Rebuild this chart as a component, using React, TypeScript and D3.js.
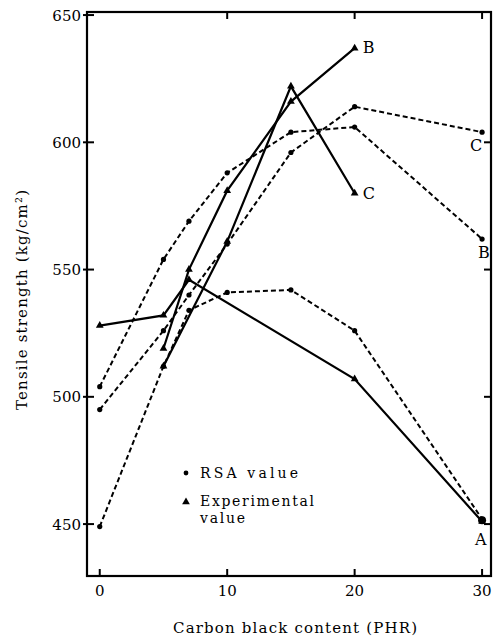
import React from 'react';
import * as d3 from 'd3';

// carbon black content (PHR) vs tensile strength (kg/cm2)
type Pt = [number, number];

const expA: Pt[] = [[0, 528], [5, 532], [7, 546], [20, 507], [30, 451]];
const expB: Pt[] = [[5, 519], [7, 550], [10, 581], [15, 616], [20, 637]];
const expC: Pt[] = [[5, 512], [10, 561], [15, 622], [20, 580]];

const rsaA: Pt[] = [[0, 449], [5, 512], [7, 534], [10, 541], [15, 542], [20, 526], [30, 452]];
const rsaB: Pt[] = [[0, 504], [5, 554], [7, 569], [10, 588], [15, 604], [20, 606], [30, 562]];
const rsaC: Pt[] = [[0, 495], [5, 526], [7, 540], [10, 560], [15, 596], [20, 614], [30, 604]];

const xTicks = [0, 10, 20, 30];
const yTicks = [450, 500, 550, 600, 650];

// end labels: [x, y, label, dx, dy]
const endLabels: [number, number, string, number, number][] = [
  [20, 637, 'B', 8, 5],
  [20, 580, 'C', 8, 6],
  [30, 604, 'C', -12, 19],
  [30, 562, 'B', -4, 19],
  [30, 451, 'A', -7, 23],
];

const W = 494;
const H = 638;
const left = 87, right = 491, top = 12, bottom = 576;

const font = '"DejaVu Serif", "Liberation Serif", serif';

const App: React.FC = () => {
  const x = d3.scaleLinear().domain([-1, 30.7]).range([left, right]);
  const y = d3.scaleLinear().domain([429.6, 651.2]).range([bottom, top]);

  const line = d3.line<Pt>().x(d => x(d[0])).y(d => y(d[1]));
  const tri = d3.symbol().type(d3.symbolTriangle).size(26)() as string;

  const solid = [expA, expB, expC];
  const dashed = [rsaA, rsaB, rsaC];

  return (
    <svg width={W} height={H} style={{ position: 'absolute', left: 0, top: 0, background: '#fff' }}
      fontFamily={font}>
      {/* frame */}
      <rect x={left} y={top} width={right - left} height={bottom - top} fill="none" stroke="#000" strokeWidth={2.2} />

      {/* ticks */}
      {yTicks.map(t => (
        <g key={'y' + t}>
          <line x1={left - 4} x2={left + 7} y1={y(t)} y2={y(t)} stroke="#000" strokeWidth={2} />
          {t < 650 && <line x1={right - 7} x2={right} y1={y(t)} y2={y(t)} stroke="#000" strokeWidth={2} />}
          <text x={left - 6} y={y(t) + 5.5} textAnchor="end" fontSize={15}>{t}</text>
        </g>
      ))}
      {xTicks.map(t => (
        <g key={'x' + t}>
          <line x1={x(t)} x2={x(t)} y1={bottom} y2={bottom - 7} stroke="#000" strokeWidth={2} />
          {t > 0 && <line x1={x(t)} x2={x(t)} y1={top} y2={top + 7} stroke="#000" strokeWidth={2} />}
          <text x={x(t)} y={596} textAnchor="middle" fontSize={15}>{t}</text>
        </g>
      ))}

      {/* axis titles */}
      <text x={173} y={633} fontSize={15} textLength={244} lengthAdjust="spacing">Carbon black content (PHR)</text>
      <text transform="translate(27,410) rotate(-90)" x={0} y={0} fontSize={15}
        textLength={220} lengthAdjust="spacing">Tensile strength (kg/cm²)</text>

      {/* RSA (dashed) */}
      {dashed.map((s, i) => (
        <g key={'d' + i}>
          <path d={line(s) as string} fill="none" stroke="#000" strokeWidth={2} strokeDasharray="5,3" />
          {s.map((p, j) => <circle key={j} cx={x(p[0])} cy={y(p[1])} r={2.6} fill="#000" />)}
        </g>
      ))}

      {/* experimental (solid) */}
      {solid.map((s, i) => (
        <g key={'s' + i}>
          <path d={line(s) as string} fill="none" stroke="#000" strokeWidth={2.2} />
          {s.map((p, j) => (
            <path key={j} d={tri} transform={`translate(${x(p[0])},${y(p[1])})`} fill="#000" />
          ))}
        </g>
      ))}
      <circle cx={x(30)} cy={y(451.5)} r={4} fill="#000" />

      {endLabels.map((l, i) => (
        <text key={'l' + i} x={x(l[0]) + l[3]} y={y(l[1]) + l[4]} fontSize={16}>{l[2]}</text>
      ))}

      {/* legend */}
      <circle cx={186} cy={473} r={2.4} fill="#000" />
      <text x={200} y={478} fontSize={14} textLength={98} lengthAdjust="spacing">RSA value</text>
      <path d={tri} transform="translate(186,502)" fill="#000" />
      <text x={200} y={506} fontSize={14} textLength={114} lengthAdjust="spacing">Experimental</text>
      <text x={200} y={523} fontSize={14} textLength={45} lengthAdjust="spacing">value</text>
    </svg>
  );
};

export default App;
